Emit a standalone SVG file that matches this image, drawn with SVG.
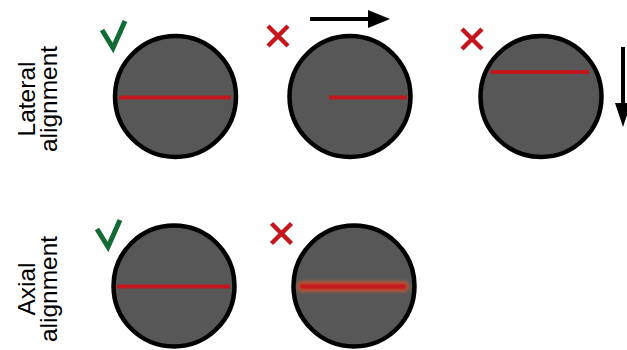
<svg xmlns="http://www.w3.org/2000/svg" width="627" height="350" viewBox="0 0 627 350">
<style>
.disc{fill:#575757;stroke:#000;stroke-width:4.5}
.beam{stroke:#c4161c;stroke-width:4;fill:none}
.ok{fill:none;stroke:#126b34;stroke-width:5;stroke-linejoin:miter;stroke-linecap:butt}
.bad{fill:none;stroke:#c4161c;stroke-width:4.5}
.lbl{font-family:"Liberation Sans",Arial,sans-serif;font-size:24.5px;fill:#000;text-anchor:middle}
.arr{stroke:#000;stroke-width:4;fill:none}
</style>
<defs>
<filter id="blur" filterUnits="userSpaceOnUse" x="280" y="270" width="140" height="35">
<feGaussianBlur stdDeviation="1.8"/>
</filter>
</defs>
<g id="label-lateral">
<text class="lbl" transform="translate(35,99) rotate(-90)"><tspan x="0" y="0">Lateral</tspan><tspan x="0" y="22">alignment</tspan></text>
</g>
<g id="label-axial">
<text class="lbl" transform="translate(35,289) rotate(-90)"><tspan x="0" y="0">Axial</tspan><tspan x="0" y="22">alignment</tspan></text>
</g>
<g id="node-lat-ok">
<circle class="disc" cx="175.5" cy="96.5" r="60.5"/>
<line class="beam" x1="119" y1="97.5" x2="231" y2="97.5"/>
<polyline class="ok" points="102,30 113,48 125,21"/>
</g>
<g id="node-lat-shift">
<circle class="disc" cx="350" cy="96.5" r="60.5"/>
<line class="beam" x1="329" y1="97.5" x2="407" y2="97.5"/>
<path class="bad" d="M268,26 L288,46 M288,26 L268,46"/>
</g>
<g id="node-lat-vert">
<circle class="disc" cx="541" cy="96.5" r="60.5"/>
<line class="beam" x1="491" y1="72" x2="589" y2="72"/>
<path class="bad" d="M462,29 L482,49 M482,29 L462,49"/>
</g>
<g id="node-ax-ok">
<circle class="disc" cx="174" cy="286" r="60.5"/>
<line class="beam" x1="117" y1="286.5" x2="230" y2="286.5"/>
<polyline class="ok" points="97,229 108,247 120,220"/>
</g>
<g id="node-ax-bad">
<circle class="disc" cx="354" cy="286" r="60.5"/>
<g filter="url(#blur)">
<rect x="297" y="281" width="112" height="11" rx="5" fill="#c9683a" opacity="0.75"/>
<rect x="299" y="283" width="108" height="7" rx="3" fill="#c4161c"/>
</g>
<path class="bad" d="M271.5,223.5 L291.5,243.5 M291.5,223.5 L271.5,243.5"/>
</g>
<g id="connectors">
<line class="arr" x1="310" y1="19" x2="370" y2="19"/>
<polygon points="368,10 390,19 368,28" fill="#000"/>
<line class="arr" x1="623" y1="47" x2="623" y2="105"/>
<polygon points="615,103 631,103 623,127" fill="#000"/>
</g>
</svg>
